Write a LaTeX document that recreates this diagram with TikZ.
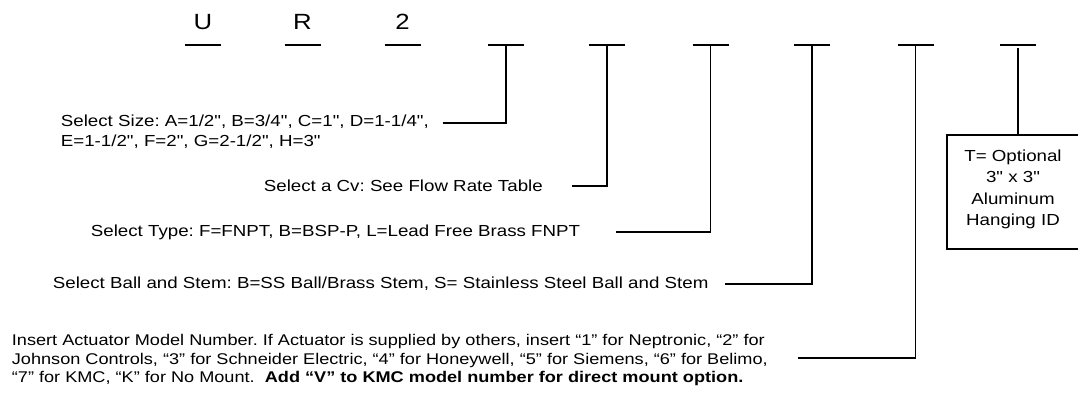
\documentclass[tikz,border=0pt]{standalone}
\usepackage{fontspec}
\setmainfont{Liberation Sans}[Ligatures=TeXOff]
\newfontfamily\lblfont{Liberation Sans}[Ligatures=TeXOff, FakeStretch=1.17]
\begin{document}
\begin{tikzpicture}[x=1pt,y=-1pt, line width=1.8pt,
  slot/.style={minimum width=36pt, minimum height=0pt, inner sep=0pt, outer sep=0pt},
  slotline/.style={line width=2.2pt},
  lbl/.style={font=\lblfont\fontsize{16}{19.5}\selectfont\frenchspacing, inner sep=0pt, align=left, anchor=west},
  actlbl/.style={font=\lblfont\fontsize{15.5}{18.7}\selectfont\frenchspacing, inner sep=0pt, align=left, anchor=west},
  idlbl/.style={font=\lblfont\fontsize{16}{21.5}\selectfont\frenchspacing, inner sep=0pt, align=center},
  code/.style={font=\lblfont\fontsize{22}{26}\selectfont, inner sep=0pt, anchor=base},
  lead/.style={line width=1.8pt}]
\useasboundingbox (0,0) rectangle (1078,392);
% slots
\node[slot] (m1) at (203,45) {};
\node[slot] (m2) at (302.5,45) {};
\node[slot] (m3) at (402.5,45) {};
\node[slot] (m4) at (506,45) {};
\node[slot] (m5) at (607,45) {};
\node[slot] (m6) at (710.5,45) {};
\node[slot] (m7) at (812,45) {};
\node[slot] (m8) at (915.5,45) {};
\node[slot] (m9) at (1018,45) {};
\foreach \n in {m1,m2,m3,m4,m5,m6,m7,m8,m9} \draw[slotline] (\n.west) -- (\n.east);
% fixed code letters
\node[code] (cu) at (203,29) {U};
\node[code] (cr) at (302.5,29) {R};
\node[code] (c2) at (402.5,29) {2};
% labels
\node[lbl] (tsize) at (60,131.5) {Select Size: A=1/2", B=3/4", C=1", D=1-1/4",\\E=1-1/2", F=2", G=2-1/2", H=3"};
\node[lbl] (tcv) at (263,186) {Select a Cv: See Flow Rate Table};
\node[lbl] (ttype) at (90,232.7) {Select Type: F=FNPT, B=BSP-P, L=Lead Free Brass FNPT};
\node[lbl] (tball) at (52,284) {Select Ball and Stem: B=SS Ball/Brass Stem, S= Stainless Steel Ball and Stem};
\node[actlbl] (tact) at (11,360) {Insert Actuator Model Number. If Actuator is supplied by others, insert “1” for Neptronic, “2” for\\Johnson Controls, “3” for Schneider Electric, “4” for Honeywell, “5” for Siemens, “6” for Belimo,\\“7” for KMC, “K” for No Mount.\ \ \textbf{Add “V” to KMC model number for direct mount option.}};
% leader start points
\coordinate (e4) at (442.7,123);
\coordinate (e5) at (572,186);
\coordinate (e6) at (616,232);
\coordinate (e7) at (725,284);
\coordinate (e8) at (798,358);
\draw[lead] (e4) -| (m4.center);
\draw[lead] (e5) -| (m5.center);
\draw[lead] (e6) -| (m6.center);
\draw[lead] (e7) -| (m7.center);
\draw[lead] (e8) -| (m8.center);
% ID box
\node[draw, line width=1.8pt, anchor=north west, minimum width=145pt, minimum height=114pt, inner sep=0pt] (idbox) at (946,134) {};
\node[idlbl] (idtext) at (1013,189.5) {T= Optional\\3" x 3"\\Aluminum\\Hanging ID};
\coordinate (m9b) at (1018,48);
\draw[lead] (m9b) -- (m9b |- idbox.north);
\end{tikzpicture}
\end{document}
